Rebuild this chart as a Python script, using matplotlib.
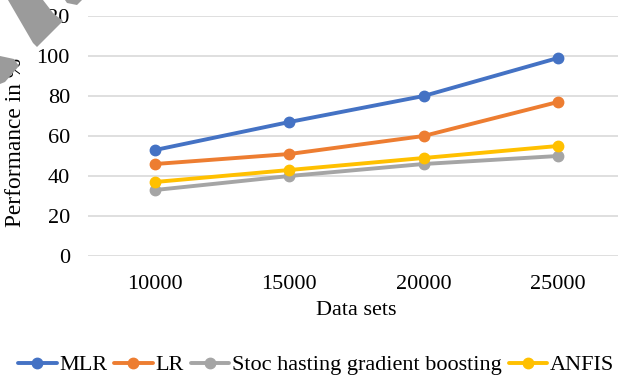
import matplotlib
matplotlib.use("Agg")
import matplotlib.pyplot as plt
from matplotlib.patches import Polygon

# data sets sizes and performance of each model (%)
sizes = ["10000", "15000", "20000", "25000"]
mlr = [53, 67, 80, 99]
lr = [46, 51, 60, 77]
stoc = [33, 40, 46, 50]
anfis = [37, 43, 49, 55]

series = [
    ("MLR", mlr, "#4472C4"),
    ("LR", lr, "#ED7D31"),
    ("Stoc hasting gradient boosting", stoc, "#A5A5A5"),
    ("ANFIS", anfis, "#FFC000"),
]

W, H = 618, 380
FS = 16
plt.rcParams["font.family"] = ["Liberation Serif", "DejaVu Serif"]

fig = plt.figure(figsize=(W / 100, H / 100), dpi=100)
ax = fig.add_axes([88 / W, 1 - 256 / H, (625 - 88) / W, 240 / H])

x = range(len(sizes))
for name, vals, col in series:
    ax.plot(x, vals, color=col, lw=2.8, marker="o", ms=7.5, label=name,
            solid_capstyle="round")

ax.set_xlim(-0.5, len(sizes) - 0.5)
ax.set_ylim(0, 120)
ax.set_yticks(range(0, 121, 20))
ax.set_xticks(list(x))
ax.set_xticklabels(sizes)
ax.grid(axis="y", color="#D9D9D9", lw=1.2)
ax.set_axisbelow(True)
for s in ax.spines.values():
    s.set_visible(False)
ax.tick_params(length=0, labelsize=FS, colors="black")
ax.tick_params(axis="y", pad=13)
ax.tick_params(axis="x", pad=14)

ax.set_xlabel("Data sets", fontsize=FS, labelpad=5)
fig.text(16 / W, 1 - 142 / H, "Performance in %", rotation=90,
         fontsize=FS + 0.8, ha="center", va="center")

fig.legend(loc="center", bbox_to_anchor=(316 / W, 1 - 365 / H), ncol=4,
           frameon=False, fontsize=FS, handlelength=1.75, handletextpad=0.12,
           columnspacing=0.3, borderaxespad=0)


# gray corner smudge over the upper left
def px(pts):
    return [(a / W, 1 - b / H) for a, b in pts]


for pts in [
    [(8, 0), (43, 0), (53, 13), (63, 21), (37, 47), (33, 43)],
    [(65, 0), (82, 0), (77, 5), (67, 3)],
    [(0, 56), (14, 59), (19, 66), (5, 82), (0, 84)],
]:
    fig.add_artist(Polygon(px(pts), closed=True, transform=fig.transFigure,
                           facecolor="#9B9B9B", edgecolor="none", zorder=10))

fig.savefig("out.png", dpi=100)
